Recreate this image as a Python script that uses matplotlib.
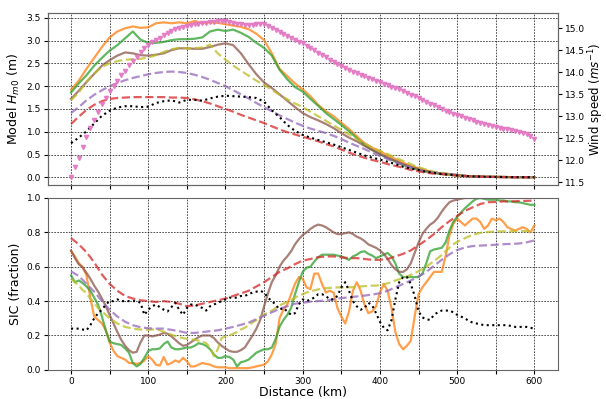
import numpy as np
import matplotlib
matplotlib.use("Agg")
import matplotlib.pyplot as plt

# distance along transect (km)
dist10 = np.arange(0, 601, 10)
dist5 = np.arange(0, 601, 5)

# modelled significant wave height (m), 10 km spacing
hs_orange = [1.92, 2.12, 2.38, 2.62, 2.86, 3.07, 3.20, 3.27, 3.31, 3.28,
             3.29, 3.38, 3.40, 3.38, 3.40, 3.38, 3.43, 3.38, 3.40, 3.39,
             3.36, 3.33, 3.30, 3.25, 3.15, 3.01, 2.72, 2.38, 2.22, 2.06,
             1.93, 1.78, 1.59, 1.45, 1.34, 1.20, 1.06, 0.90, 0.75, 0.65,
             0.57, 0.48, 0.40, 0.32, 0.25, 0.20, 0.15, 0.11, 0.08, 0.06,
             0.04, 0.03, 0.02, 0.015, 0.01, 0.008, 0.006, 0.004, 0.003, 0.002, 0.001]
hs_green = [1.86, 2.06, 2.24, 2.45, 2.62, 2.78, 2.90, 3.05, 3.20, 3.02,
            2.95, 2.95, 2.97, 3.01, 3.03, 3.03, 3.04, 3.07, 3.20, 3.24,
            3.21, 3.24, 3.17, 3.08, 2.95, 2.84, 2.67, 2.36, 2.15, 1.98,
            1.88, 1.72, 1.57, 1.41, 1.28, 1.15, 1.01, 0.86, 0.71, 0.60,
            0.51, 0.42, 0.35, 0.27, 0.21, 0.16, 0.12, 0.10, 0.07, 0.06,
            0.04, 0.03, 0.02, 0.015, 0.01, 0.008, 0.006, 0.004, 0.003, 0.002, 0.001]
hs_brown = [1.72, 1.90, 2.09, 2.27, 2.45, 2.57, 2.67, 2.74, 2.72, 2.68,
            2.67, 2.69, 2.72, 2.79, 2.83, 2.83, 2.82, 2.82, 2.86, 2.91,
            2.94, 2.90, 2.72, 2.48, 2.26, 2.08, 1.96, 1.82, 1.68, 1.54,
            1.41, 1.32, 1.25, 1.17, 1.08, 0.97, 0.87, 0.79, 0.69, 0.60,
            0.51, 0.43, 0.36, 0.29, 0.23, 0.18, 0.14, 0.10, 0.08, 0.07,
            0.05, 0.03, 0.02, 0.015, 0.01, 0.008, 0.006, 0.004, 0.003, 0.002, 0.001]
hs_olive = [1.69, 1.86, 2.10, 2.28, 2.42, 2.50, 2.55, 2.58, 2.59, 2.60,
            2.63, 2.68, 2.75, 2.81, 2.84, 2.83, 2.83, 2.85, 2.91, 2.72,
            2.58, 2.45, 2.34, 2.23, 2.12, 2.02, 1.92, 1.81, 1.71, 1.62,
            1.54, 1.44, 1.34, 1.24, 1.14, 1.04, 0.94, 0.84, 0.74, 0.65,
            0.58, 0.51, 0.43, 0.36, 0.29, 0.22, 0.17, 0.12, 0.10, 0.07,
            0.05, 0.03, 0.02, 0.015, 0.01, 0.008, 0.006, 0.004, 0.003, 0.002, 0.001]
hs_purple = [1.41, 1.54, 1.69, 1.81, 1.91, 2.00, 2.07, 2.13, 2.18, 2.22,
             2.26, 2.29, 2.31, 2.32, 2.31, 2.29, 2.25, 2.20, 2.14, 2.07,
             2.00, 1.91, 1.82, 1.73, 1.63, 1.54, 1.45, 1.36, 1.28, 1.20,
             1.13, 1.07, 1.02, 0.97, 0.91, 0.84, 0.76, 0.69, 0.62, 0.54,
             0.47, 0.40, 0.33, 0.27, 0.22, 0.16, 0.13, 0.10, 0.08, 0.07,
             0.05, 0.03, 0.02, 0.015, 0.01, 0.008, 0.006, 0.004, 0.003, 0.002, 0.001]
hs_red = [1.17, 1.33, 1.48, 1.59, 1.67, 1.72, 1.74, 1.75, 1.76, 1.76,
          1.76, 1.76, 1.76, 1.75, 1.75, 1.74, 1.71, 1.67, 1.62, 1.56,
          1.50, 1.44, 1.37, 1.31, 1.25, 1.19, 1.12, 1.05, 0.99, 0.94,
          0.89, 0.84, 0.79, 0.73, 0.68, 0.61, 0.54, 0.48, 0.43, 0.38,
          0.34, 0.29, 0.25, 0.21, 0.16, 0.13, 0.10, 0.08, 0.07, 0.05,
          0.04, 0.03, 0.02, 0.015, 0.01, 0.008, 0.006, 0.004, 0.003, 0.002, 0.001]
hs_obs = [0.75, 0.87, 1.01, 1.18, 1.35, 1.46, 1.53, 1.56, 1.56, 1.54,
          1.55, 1.63, 1.67, 1.69, 1.64, 1.70, 1.70, 1.68, 1.73, 1.77,
          1.79, 1.78, 1.77, 1.76, 1.74, 1.66, 1.47, 1.32, 1.15, 1.02,
          0.93, 0.87, 0.82, 0.77, 0.72, 0.66, 0.60, 0.54, 0.48, 0.43,
          0.39, 0.34, 0.29, 0.23, 0.19, 0.16, 0.12, 0.10, 0.07, 0.06,
          0.04, 0.03, 0.02, 0.015, 0.01, 0.008, 0.006, 0.004, 0.003, 0.002, 0.001]

# wind speed (m/s), 5 km spacing
wind = [11.61, 11.84, 12.06, 12.29, 12.52, 12.73, 12.92, 13.10, 13.27, 13.42,
        13.57, 13.68, 13.81, 13.93, 14.04, 14.16, 14.26, 14.36, 14.46, 14.55,
        14.62, 14.68, 14.74, 14.79, 14.85, 14.90, 14.94, 14.98, 15.01, 15.04,
        15.06, 15.08, 15.10, 15.11, 15.12, 15.13, 15.14, 15.15, 15.16, 15.17,
        15.17, 15.15, 15.13, 15.11, 15.09, 15.08, 15.08, 15.08, 15.09, 15.10,
        15.09, 15.06, 15.02, 14.97, 14.92, 14.88, 14.83, 14.78, 14.74, 14.70,
        14.66, 14.61, 14.56, 14.50, 14.45, 14.40, 14.34, 14.29, 14.24, 14.19,
        14.15, 14.10, 14.05, 14.01, 13.98, 13.95, 13.91, 13.87, 13.84, 13.81,
        13.78, 13.74, 13.71, 13.67, 13.64, 13.61, 13.57, 13.53, 13.49, 13.45,
        13.41, 13.37, 13.33, 13.29, 13.25, 13.21, 13.17, 13.13, 13.09, 13.06,
        13.03, 13.00, 12.97, 12.94, 12.91, 12.88, 12.85, 12.82, 12.80, 12.78,
        12.76, 12.74, 12.72, 12.70, 12.68, 12.66, 12.64, 12.62, 12.59, 12.55,
        12.48]

# sea ice concentration (fraction), 5 km spacing
sic_orange = [0.69, 0.66, 0.62, 0.60, 0.55, 0.42, 0.31, 0.29, 0.27, 0.23,
              0.16, 0.11, 0.08, 0.07, 0.06, 0.04, 0.04, 0.035, 0.04, 0.055,
              0.08, 0.06, 0.03, 0.025, 0.075, 0.03, 0.04, 0.055, 0.045, 0.07,
              0.05, 0.02, 0.02, 0.03, 0.04, 0.035, 0.03, 0.02, 0.015, 0.015,
              0.015, 0.01, 0.01, 0.01, 0.01, 0.01, 0.01, 0.015, 0.02, 0.025,
              0.03, 0.05, 0.09, 0.15, 0.30, 0.35, 0.38, 0.44, 0.50, 0.54,
              0.53, 0.48, 0.47, 0.56, 0.56, 0.50, 0.45, 0.46, 0.45, 0.36,
              0.31, 0.27, 0.34, 0.46, 0.51, 0.46, 0.38, 0.33, 0.34, 0.37,
              0.45, 0.50, 0.46, 0.36, 0.22, 0.15, 0.12, 0.14, 0.17, 0.31,
              0.44, 0.48, 0.51, 0.54, 0.57, 0.57, 0.57, 0.66, 0.78, 0.85,
              0.88, 0.86, 0.84, 0.86, 0.88, 0.88, 0.86, 0.82, 0.84, 0.88,
              0.87, 0.88, 0.86, 0.83, 0.82, 0.81, 0.82, 0.83, 0.82, 0.80,
              0.84]
sic_green = [0.55, 0.51, 0.52, 0.505, 0.485, 0.46, 0.42, 0.38, 0.31, 0.23,
             0.165, 0.155, 0.15, 0.145, 0.125, 0.10, 0.04, 0.02, 0.035, 0.07,
             0.11, 0.12, 0.12, 0.125, 0.15, 0.165, 0.13, 0.12, 0.12, 0.125,
             0.13, 0.13, 0.14, 0.155, 0.15, 0.14, 0.12, 0.09, 0.07, 0.07,
             0.08, 0.075, 0.06, 0.02, 0.045, 0.05, 0.06, 0.08, 0.10, 0.11,
             0.12, 0.12, 0.13, 0.18, 0.25, 0.29, 0.32, 0.36, 0.44, 0.51,
             0.57, 0.595, 0.60, 0.63, 0.655, 0.67, 0.67, 0.67, 0.67, 0.665,
             0.66, 0.65, 0.64, 0.66, 0.67, 0.685, 0.69, 0.675, 0.665, 0.65,
             0.66, 0.67, 0.68, 0.66, 0.62, 0.56, 0.54, 0.54, 0.54, 0.54,
             0.54, 0.56, 0.62, 0.69, 0.70, 0.705, 0.71, 0.74, 0.81, 0.86,
             0.89, 0.915, 0.94, 0.96, 0.98, 0.995, 1.0, 0.995, 0.99, 0.99,
             0.99, 0.985, 0.985, 0.98, 0.98, 0.975, 0.975, 0.97, 0.965, 0.96,
             0.96]
sic_brown = [0.695, 0.65, 0.615, 0.595, 0.565, 0.53, 0.49, 0.455, 0.415, 0.37,
             0.32, 0.27, 0.22, 0.175, 0.14, 0.115, 0.10, 0.105, 0.16, 0.20,
             0.20, 0.195, 0.20, 0.205, 0.215, 0.21, 0.195, 0.175, 0.155, 0.14,
             0.145, 0.16, 0.175, 0.19, 0.20, 0.20, 0.20, 0.185, 0.16, 0.14,
             0.125, 0.11, 0.105, 0.105, 0.115, 0.13, 0.165, 0.20, 0.24, 0.29,
             0.37, 0.445, 0.51, 0.55, 0.60, 0.635, 0.66, 0.69, 0.73, 0.76,
             0.785, 0.80, 0.82, 0.835, 0.845, 0.84, 0.83, 0.815, 0.80, 0.79,
             0.79, 0.795, 0.80, 0.79, 0.775, 0.765, 0.75, 0.73, 0.72, 0.71,
             0.695, 0.675, 0.645, 0.61, 0.585, 0.57, 0.57, 0.585, 0.62, 0.68,
             0.74, 0.79, 0.82, 0.845, 0.86, 0.885, 0.92, 0.95, 0.975, 0.985,
             0.99, 0.995, 1.0, 1.0, 1.0, 1.0, 1.0, 1.0, 1.0, 1.0,
             1.0, 1.0, 1.0, 1.0, 1.0, 1.0, 1.0, 1.0, 1.0, 1.0,
             1.0]
sic_olive = [0.53, 0.51, 0.49, 0.465, 0.445, 0.415, 0.39, 0.36, 0.34, 0.32,
             0.30, 0.285, 0.27, 0.26, 0.25, 0.245, 0.24, 0.237, 0.235, 0.233,
             0.233, 0.235, 0.236, 0.23, 0.222, 0.213, 0.205, 0.197, 0.19, 0.185,
             0.18, 0.178, 0.175, 0.17, 0.165, 0.155, 0.13, 0.08, 0.12, 0.185,
             0.195, 0.20, 0.21, 0.22, 0.235, 0.245, 0.26, 0.275, 0.29, 0.31,
             0.32, 0.335, 0.345, 0.36, 0.375, 0.385, 0.395, 0.405, 0.42, 0.432,
             0.44, 0.45, 0.457, 0.463, 0.468, 0.472, 0.475, 0.477, 0.478, 0.48,
             0.48, 0.48, 0.48, 0.481, 0.483, 0.485, 0.487, 0.488, 0.49, 0.49,
             0.493, 0.498, 0.504, 0.51, 0.52, 0.527, 0.535, 0.544, 0.553, 0.563,
             0.574, 0.587, 0.60, 0.617, 0.633, 0.65, 0.668, 0.69, 0.71, 0.73,
             0.745, 0.755, 0.766, 0.776, 0.785, 0.792, 0.797, 0.80, 0.802, 0.804,
             0.805, 0.806, 0.806, 0.806, 0.806, 0.806, 0.807, 0.807, 0.808, 0.81,
             0.81]
sic_obs = [0.24, 0.24, 0.24, 0.235, 0.23, 0.26, 0.30, 0.33, 0.35, 0.38,
           0.40, 0.40, 0.41, 0.40, 0.40, 0.40, 0.40, 0.40, 0.39, 0.32,
           0.35, 0.37, 0.38, 0.365, 0.35, 0.34, 0.365, 0.39, 0.35, 0.32,
           0.36, 0.38, 0.38, 0.37, 0.36, 0.345, 0.37, 0.38, 0.39, 0.40,
           0.41, 0.42, 0.42, 0.42, 0.43, 0.43, 0.44, 0.45, 0.455, 0.46,
           0.45, 0.42, 0.40, 0.38, 0.35, 0.36, 0.34, 0.32, 0.33, 0.38,
           0.41, 0.40, 0.41, 0.42, 0.44, 0.44, 0.43, 0.41, 0.41, 0.43,
           0.48, 0.51, 0.46, 0.40, 0.37, 0.35, 0.36, 0.39, 0.375, 0.33,
           0.28, 0.245, 0.23, 0.29, 0.41, 0.51, 0.54, 0.54, 0.50, 0.43,
           0.34, 0.305, 0.295, 0.29, 0.32, 0.335, 0.345, 0.345, 0.345, 0.335,
           0.32, 0.31, 0.30, 0.285, 0.275, 0.27, 0.265, 0.26, 0.26, 0.26,
           0.26, 0.26, 0.26, 0.26, 0.255, 0.25, 0.25, 0.25, 0.25, 0.245,
           0.24]
# smoother model runs, 10 km spacing
sic_red = [0.767, 0.73, 0.685, 0.625, 0.555, 0.50, 0.46, 0.43, 0.415, 0.405,
           0.40, 0.395, 0.40, 0.395, 0.385, 0.37, 0.375, 0.385, 0.395, 0.405,
           0.415, 0.43, 0.445, 0.46, 0.485, 0.51, 0.54, 0.57, 0.59, 0.615,
           0.635, 0.645, 0.655, 0.66, 0.66, 0.655, 0.65, 0.65, 0.645, 0.64,
           0.64, 0.645, 0.66, 0.675, 0.695, 0.725, 0.755, 0.79, 0.83, 0.865,
           0.895, 0.925, 0.945, 0.965, 0.975, 0.977, 0.98, 0.98, 0.982, 0.983,
           0.985]
sic_purple = [0.573, 0.546, 0.50, 0.455, 0.40, 0.35, 0.31, 0.28, 0.26, 0.248,
              0.242, 0.24, 0.24, 0.233, 0.225, 0.215, 0.215, 0.22, 0.225, 0.23,
              0.24, 0.25, 0.262, 0.275, 0.295, 0.315, 0.335, 0.355, 0.37, 0.385,
              0.39, 0.397, 0.40, 0.404, 0.41, 0.418, 0.422, 0.427, 0.432, 0.438,
              0.446, 0.46, 0.48, 0.50, 0.52, 0.543, 0.57, 0.605, 0.64, 0.672,
              0.697, 0.712, 0.72, 0.723, 0.725, 0.728, 0.731, 0.733, 0.735, 0.742,
              0.753]

lw = 1.6
al = 0.75

fig, (ax1, ax2) = plt.subplots(2, 1, sharex=True, figsize=(6.06, 3.99), dpi=100)
fig.subplots_adjust(left=0.079, right=0.92, top=0.967, bottom=0.073, hspace=0.075)

# top: wave height
ax1.plot(dist10, hs_orange, color='tab:orange', lw=lw, alpha=al)
ax1.plot(dist10, hs_green, color='tab:green', lw=lw, alpha=al)
ax1.plot(dist10, hs_brown, color='tab:brown', lw=lw, alpha=al)
ax1.plot(dist10, hs_olive, color='tab:olive', lw=lw, alpha=al, ls='--')
ax1.plot(dist10, hs_purple, color='tab:purple', lw=lw, alpha=al, ls='--')
ax1.plot(dist10, hs_red, color='tab:red', lw=lw, alpha=al, ls='--')
ax1.plot(dist10, hs_obs, color='k', lw=1.5, ls=':')
ax1.set_ylabel('Model $H_{m0}$ (m)', fontsize=9, labelpad=3)
ax1.set_yticks(np.arange(0, 3.51, 0.5))

axw = ax1.twinx()
axw.plot(dist5, wind, 'v', color='tab:pink', ms=3, alpha=0.9)
axw.set_ylabel('Wind speed ($ms^{-1}$)', fontsize=8.5, labelpad=1)
axw.set_yticks(np.arange(11.5, 15.01, 0.5))

# bottom: sea ice concentration
ax2.plot(dist5, sic_orange, color='tab:orange', lw=lw, alpha=al)
ax2.plot(dist5, sic_green, color='tab:green', lw=lw, alpha=al)
ax2.plot(dist5, sic_brown, color='tab:brown', lw=lw, alpha=al)
ax2.plot(dist5, sic_olive, color='tab:olive', lw=lw, alpha=al, ls='--')
ax2.plot(dist10, sic_purple, color='tab:purple', lw=lw, alpha=al, ls='--')
ax2.plot(dist10, sic_red, color='tab:red', lw=lw, alpha=al, ls='--')
ax2.plot(dist5, sic_obs, color='k', lw=1.5, ls=':')
ax2.set_ylim(0, 1)
ax2.set_ylabel('SIC (fraction)', fontsize=9, labelpad=3)
ax2.set_xlabel('Distance (km)', fontsize=9, labelpad=0)

xt = np.arange(0, 601, 50)
ax2.set_xticks(xt)
ax2.set_xticklabels([str(v) if v % 100 == 0 else '' for v in xt])

for ax in (ax1, ax2):
    ax.grid(True, color='k', ls=(0, (2, 1.5)), lw=0.6, alpha=0.8)
for ax in (ax1, ax2, axw):
    ax.tick_params(labelsize=6.5, length=3, width=0.8, pad=2)
    for s in ax.spines.values():
        s.set_color('0.4')

fig.savefig('out.png', dpi=100)
